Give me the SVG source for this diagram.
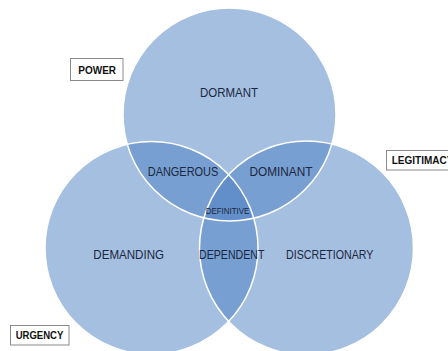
<svg xmlns="http://www.w3.org/2000/svg" width="448" height="351" viewBox="0 0 448 351">
  <style>
    .set { fill: #4c7fc2; fill-opacity: 0.5; }
    .edge { fill: none; stroke: #ffffff; stroke-width: 1.5; }
    .region { font-family: "Liberation Sans", Arial, sans-serif; font-size: 12.4px; fill: #1a2740; text-anchor: middle; }
    .small { font-size: 8.6px; }
    .tag { fill: #ffffff; stroke: #8a8a8a; stroke-width: 1; }
    .tagtext { font-family: "Liberation Sans", Arial, sans-serif; font-weight: bold; font-size: 10px; fill: #111111; text-anchor: middle; }
  </style>

  <!-- attribute sets: translucent discs so overlaps darken -->
  <g id="power">
    <circle class="set" cx="229.5" cy="114.5" r="106.5"/>
  </g>
  <g id="urgency">
    <circle class="set" cx="151.5" cy="248" r="106.5"/>
  </g>
  <g id="legitimacy">
    <circle class="set" cx="306.5" cy="248" r="107"/>
  </g>

  <!-- white outlines drawn above all fills -->
  <g id="outlines">
    <circle class="edge" cx="229.5" cy="114.5" r="106.5"/>
    <circle class="edge" cx="151.5" cy="248" r="106.5"/>
    <circle class="edge" cx="306.5" cy="248" r="107"/>
  </g>

  <!-- region labels -->
  <g id="regions">
    <text class="region" x="229" y="96.5" textLength="58" lengthAdjust="spacingAndGlyphs">DORMANT</text>
    <text class="region" x="183" y="175.5" textLength="70.5" lengthAdjust="spacingAndGlyphs">DANGEROUS</text>
    <text class="region" x="281" y="175.5" textLength="63" lengthAdjust="spacingAndGlyphs">DOMINANT</text>
    <text class="region small" x="227.5" y="214.3" textLength="43.6" lengthAdjust="spacingAndGlyphs">DEFINITIVE</text>
    <text class="region" x="128.7" y="259.3" textLength="70.7" lengthAdjust="spacingAndGlyphs">DEMANDING</text>
    <text class="region" x="231.7" y="259.3" textLength="65.3" lengthAdjust="spacingAndGlyphs">DEPENDENT</text>
    <text class="region" x="329.7" y="259.3" textLength="87.3" lengthAdjust="spacingAndGlyphs">DISCRETIONARY</text>
  </g>

  <!-- set name tags -->
  <g id="tag-power">
    <rect class="tag" x="70.5" y="58.5" width="52.5" height="22"/>
    <text class="tagtext" x="97.2" y="74.3" textLength="37.7" lengthAdjust="spacingAndGlyphs">POWER</text>
  </g>
  <g id="tag-legitimacy">
    <rect class="tag" x="386.5" y="150.5" width="70" height="19.5"/>
    <text class="tagtext" x="391.7" y="164.3" style="text-anchor:start">LEGITIMACY</text>
  </g>
  <g id="tag-urgency">
    <rect class="tag" x="10.5" y="325.5" width="58.5" height="19.5"/>
    <text class="tagtext" x="39.5" y="339.3" textLength="47.7" lengthAdjust="spacingAndGlyphs">URGENCY</text>
  </g>
</svg>
